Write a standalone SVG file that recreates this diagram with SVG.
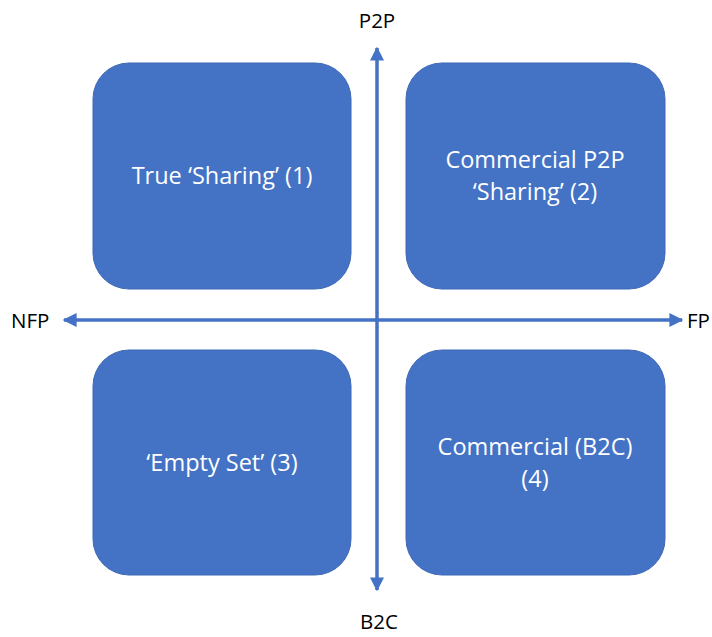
<svg xmlns="http://www.w3.org/2000/svg" width="712" height="637" viewBox="0 0 712 637">
<style>
.box{fill:#4472C4;stroke:#3f69b5;stroke-width:1}
.t{font-family:"Open Sans","Liberation Sans",sans-serif;font-size:23.5px;fill:#ffffff;text-anchor:middle}
.a{font-family:"Open Sans","Liberation Sans",sans-serif;font-size:20.5px;fill:#000000}
.ax{stroke:#4472C4;stroke-width:3.5;fill:none}
</style>
<defs>
<marker id="ah" viewBox="0 0 10 10" refX="9" refY="5" markerWidth="4" markerHeight="4" orient="auto-start-reverse" markerUnits="strokeWidth">
<path d="M0,0 L10,5 L0,10 z" fill="#4472C4"/>
</marker>
</defs>
<rect width="712" height="637" fill="#ffffff"/>
<g id="q1"><rect class="box" x="93" y="63" width="258" height="226" rx="36"/><text class="t" x="222" y="184">True ‘Sharing’ (1)</text></g>
<g id="q2"><rect class="box" x="406" y="63" width="259" height="226" rx="36"/><text class="t" x="535" y="168">Commercial P2P</text><text class="t" x="535" y="200">‘Sharing’ (2)</text></g>
<g id="q3"><rect class="box" x="93" y="350" width="258" height="225" rx="36"/><text class="t" x="222" y="471">‘Empty Set’ (3)</text></g>
<g id="q4"><rect class="box" x="406" y="350" width="259" height="225" rx="36"/><text class="t" x="535" y="455">Commercial (B2C)</text><text class="t" x="535" y="487">(4)</text></g>
<g id="connectors">
<line class="ax" x1="377" y1="590" x2="377" y2="48" marker-start="url(#ah)" marker-end="url(#ah)"/>
<line class="ax" x1="64" y1="320" x2="682" y2="320" marker-start="url(#ah)" marker-end="url(#ah)"/>
</g>
<g id="labels">
<text class="a" x="377" y="28" text-anchor="middle">P2P</text>
<text class="a" x="11" y="328">NFP</text>
<text class="a" x="687" y="328">FP</text>
<text class="a" x="379" y="629" text-anchor="middle">B2C</text>
</g>
</svg>
